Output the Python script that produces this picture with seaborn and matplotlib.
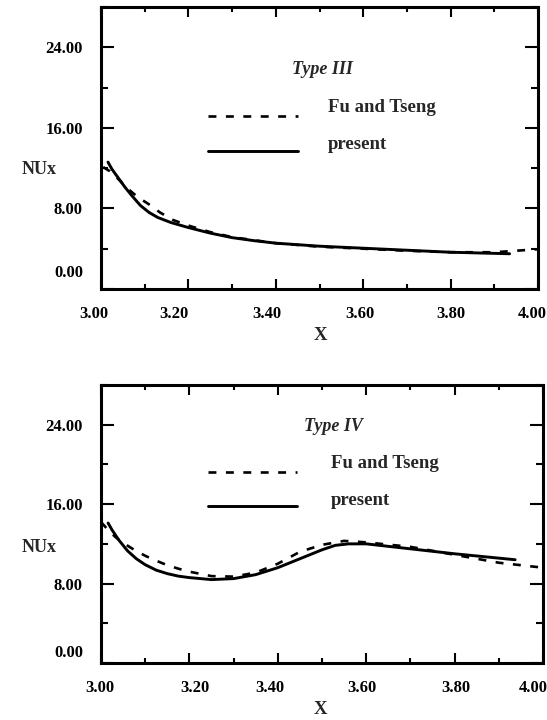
import numpy as np
import pandas as pd
import matplotlib
matplotlib.use("Agg")
import matplotlib.pyplot as plt
import matplotlib.transforms as mtransforms
from matplotlib.ticker import MultipleLocator, FormatStrFormatter
import seaborn as sns

# ---------------- data ----------------
# Type III
t3_present_x = [3.016, 3.025, 3.04, 3.055, 3.07, 3.09, 3.11, 3.13, 3.16, 3.20, 3.25, 3.30,
                3.35, 3.40, 3.50, 3.60, 3.70, 3.80, 3.935]
t3_present_y = [12.6, 11.9, 11.0, 10.1, 9.3, 8.3, 7.6, 7.1, 6.6, 6.1, 5.55, 5.1,
                4.8, 4.55, 4.25, 4.05, 3.85, 3.65, 3.5]
t3_fu_x = [3.005, 3.02, 3.04, 3.06, 3.085, 3.11, 3.135, 3.165, 3.20, 3.25, 3.30, 3.40,
           3.50, 3.60, 3.70, 3.80, 3.90, 4.00]
t3_fu_y = [12.1, 11.7, 10.9, 10.0, 9.1, 8.4, 7.6, 6.85, 6.3, 5.65, 5.15, 4.55,
           4.2, 4.0, 3.8, 3.65, 3.65, 3.95]

# Type IV
t4_present_x = [3.016, 3.025, 3.04, 3.06, 3.08, 3.10, 3.125, 3.15, 3.175, 3.20, 3.25, 3.30,
                3.35, 3.40, 3.45, 3.50, 3.53, 3.56, 3.60, 3.70, 3.80, 3.937]
t4_present_y = [14.1, 13.4, 12.4, 11.3, 10.5, 9.9, 9.35, 9.0, 8.75, 8.6, 8.4, 8.5,
                8.9, 9.6, 10.5, 11.4, 11.85, 12.0, 12.0, 11.5, 11.0, 10.4]
t4_fu_x = [3.0, 3.01, 3.02, 3.035, 3.05, 3.075, 3.10, 3.125, 3.15, 3.175, 3.20, 3.25,
           3.30, 3.35, 3.40, 3.45, 3.50, 3.55, 3.60, 3.70, 3.80, 3.90, 4.0]
t4_fu_y = [14.2, 13.7, 13.2, 12.6, 12.1, 11.4, 10.8, 10.3, 9.85, 9.5, 9.2, 8.75,
           8.7, 9.1, 10.0, 11.2, 11.9, 12.3, 12.15, 11.7, 10.9, 10.1, 9.6]

x_ticks = [3.00, 3.20, 3.40, 3.60, 3.80, 4.00]
y_ticks = [0.0, 8.0, 16.0, 24.0]
series_labels = ["Fu and Tseng", "present"]
panel_titles = ["Type III", "Type IV"]
x_label = "X"
y_label = "NUx"

# ---------------- style ----------------
sns.set_theme(style="ticks")
plt.rcParams["font.family"] = ["Liberation Serif", "DejaVu Serif"]
plt.rcParams["font.weight"] = "bold"
plt.rcParams["axes.labelweight"] = "bold"

fig = plt.figure(figsize=(5.47, 7.2), dpi=100)
ax_top = fig.add_axes([101 / 547, 1 - 289 / 720, 437 / 547, 282 / 720])
ax_bot = fig.add_axes([101 / 547, 1 - 663 / 720, 442 / 547, 278 / 720])

DASH = (0, (3.0, 3.6))
LW = 1.9

panels = [
    (ax_top, t3_fu_x, t3_fu_y, t3_present_x, t3_present_y, panel_titles[0],
     dict(title=(0.506, 0.777), dash_y=0.613, solid_y=0.489, lx0=0.245, lx1=0.451,
          tx=0.519, fu_ty=0.645, pr_ty=0.511), 18, [-7, -14, -9, -3, 0, -6], 336),
    (ax_bot, t4_fu_x, t4_fu_y, t4_present_x, t4_present_y, panel_titles[1],
     dict(title=(0.525, 0.849), dash_y=0.687, solid_y=0.565, lx0=0.242, lx1=0.443,
          tx=0.520, fu_ty=0.719, pr_ty=0.583), 12, [-1, 6, -8, -4, 1, -10], 710),
]

for ax, fx, fy, px, py, title, leg, zero_shift, xshifts, xlab_y in panels:
    df_fu = pd.DataFrame({"x": fx, "y": fy})
    df_pr = pd.DataFrame({"x": px, "y": py})
    sns.lineplot(data=df_fu, x="x", y="y", ax=ax, color="black", lw=LW,
                 linestyle=DASH, sort=False, estimator=None)
    sns.lineplot(data=df_pr, x="x", y="y", ax=ax, color="black", lw=LW + 0.2,
                 sort=False, estimator=None)

    ax.set_xlim(3.0, 4.0)
    ax.set_ylim(0, 28)
    ax.set_xlabel("")
    ax.set_ylabel("")

    ax.xaxis.set_minor_locator(MultipleLocator(0.1))
    ax.yaxis.set_minor_locator(MultipleLocator(4))
    ax.set_xticks(x_ticks)
    ax.set_yticks(y_ticks)
    ax.xaxis.set_major_formatter(FormatStrFormatter("%.2f"))
    ax.yaxis.set_major_formatter(FormatStrFormatter("%.2f"))

    ax.tick_params(axis="both", which="both", direction="in", top=True, right=True,
                   width=1.5, color="black", labelsize=12, labelcolor="black")
    ax.tick_params(axis="y", which="major", length=9.5, pad=13)
    ax.tick_params(axis="y", which="minor", length=5)
    ax.tick_params(axis="x", which="major", length=7, pad=12)
    ax.tick_params(axis="x", which="minor", length=3.6)
    for lab in ax.get_xticklabels() + ax.get_yticklabels():
        lab.set_fontweight("bold")

    for s in ax.spines.values():
        s.set_linewidth(2.2)
        s.set_color("black")
        s.set_visible(True)

    # small offsets of tick labels as in the original print
    fig.canvas.draw()
    ylabs = ax.get_yticklabels()
    off = mtransforms.ScaledTranslation(0, zero_shift / 100, fig.dpi_scale_trans)
    ylabs[0].set_transform(ylabs[0].get_transform() + off)
    for lab, dx in zip(ax.get_xticklabels(), xshifts):
        offx = mtransforms.ScaledTranslation(dx / 100, 0, fig.dpi_scale_trans)
        lab.set_transform(lab.get_transform() + offx)

    # title inside panel
    ax.text(leg["title"][0], leg["title"][1], title, transform=ax.transAxes,
            ha="center", va="center", fontsize=13, fontstyle="italic", fontweight="bold")

    # legend (manual)
    ax.plot([leg["lx0"], leg["lx1"]], [leg["dash_y"]] * 2, transform=ax.transAxes,
            color="black", lw=LW, linestyle=DASH)
    ax.plot([leg["lx0"], leg["lx1"]], [leg["solid_y"]] * 2, transform=ax.transAxes,
            color="black", lw=LW + 0.2)
    ax.text(leg["tx"], leg["fu_ty"], series_labels[0], transform=ax.transAxes,
            ha="left", va="center", fontsize=13.5, fontweight="bold")
    ax.text(leg["tx"], leg["pr_ty"], series_labels[1], transform=ax.transAxes,
            ha="left", va="center", fontsize=13.5, fontweight="bold")

    # axis labels
    fig.text(320 / 547, 1 - xlab_y / 720, x_label, ha="center", va="center",
             fontsize=13.5, fontweight="bold")

fig.text(22 / 547, 1 - 169 / 720, y_label, ha="left", va="center", fontsize=13, fontweight="bold")
fig.text(22 / 547, 1 - 548 / 720, y_label, ha="left", va="center", fontsize=13, fontweight="bold")

fig.savefig("out.png", dpi=100)
